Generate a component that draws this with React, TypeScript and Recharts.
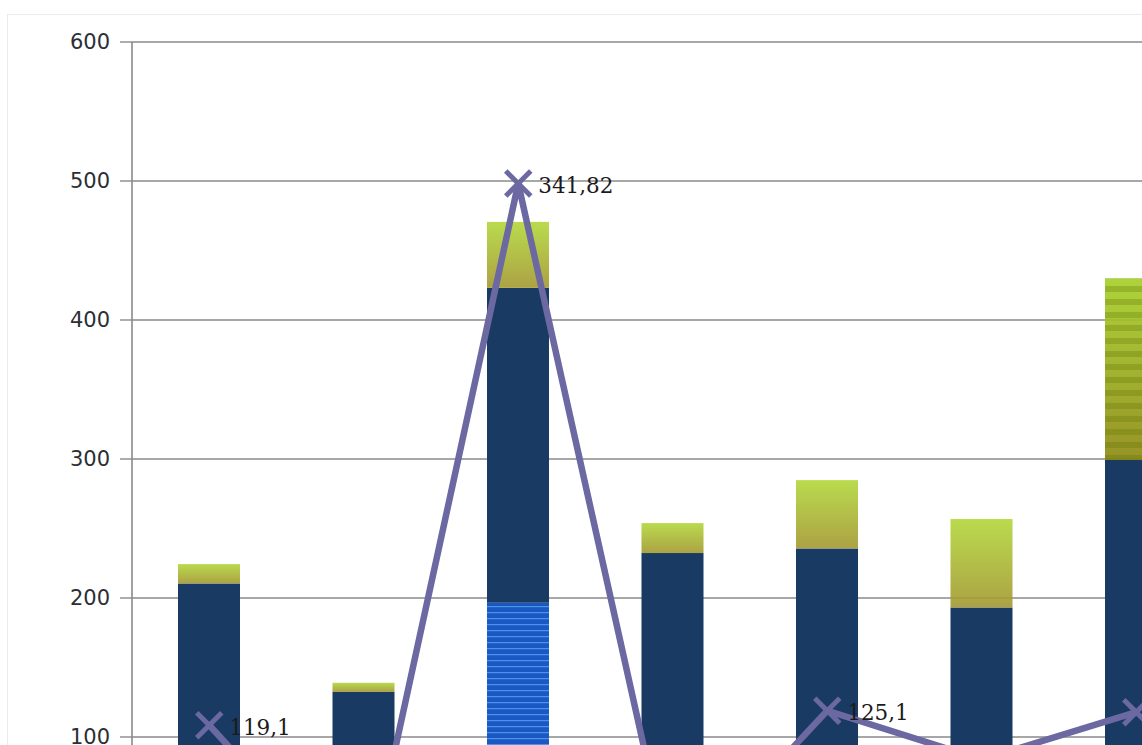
import React from 'react';
import { ComposedChart, Bar, Line, XAxis, YAxis, CartesianGrid, LabelList } from 'recharts';

const categories = ['1', '2', '3', '4', '5', '6', '7'];
const blueValues = [0, 0, 196.5, 0, 0, 0, 0];
const navyValues = [210.5, 132.5, 226.6, 232.3, 235.7, 193.2, 299.3];
const greenValues = [13.9, 6.5, 47.5, 21.6, 49.1, 63.6, 130.6];
const lineValues = [119.1, 50, 341.82, 57, 125.1, 105, 124.5];
const leftTicks = [-100, 0, 100, 200, 300, 400, 500, 600];

const data = categories.map((name, i) => ({
  name,
  blue: blueValues[i],
  navy: navyValues[i],
  green: greenValues[i],
  line: lineValues[i],
}));

const LINE_COLOR = '#6b68a2';
const NAVY = '#193a62';
const GRID = '#8a8a8a';

const GreenShape = (props: any) => {
  const { x, y, width, height, index } = props;
  if (!height || height <= 0) return <g />;
  if (index === 6) {
    return (
      <g>
        <rect x={x} y={y} width={width} height={height} fill="url(#greenGradStriped)" fillOpacity={0.92} />
        <rect x={x} y={y} width={width} height={height} fill="url(#greenStripes)" />
      </g>
    );
  }
  return <rect x={x} y={y} width={width} height={height} fill="url(#greenGrad)" fillOpacity={0.9} />;
};

const CrossDot = (props: any) => {
  const { cx, cy, index } = props;
  if (cx == null || cy == null) return <g key={`d-${index}`} />;
  const s = 12.5;
  return (
    <g key={`d-${index}`}>
      <line x1={cx - s} y1={cy - s} x2={cx + s} y2={cy + s} stroke={LINE_COLOR} strokeWidth={5} />
      <line x1={cx - s} y1={cy + s} x2={cx + s} y2={cy - s} stroke={LINE_COLOR} strokeWidth={5} />
    </g>
  );
};

const ValueLabel = (props: any) => {
  const { x, y, value } = props;
  if (x == null || y == null) return null;
  return (
    <text
      x={x + 20}
      y={y + 2}
      fontFamily="'DejaVu Serif', serif"
      fontSize={21.5}
      fill="#1b1b1b"
      dominantBaseline="central"
    >
      {String(value).replace('.', ',')}
    </text>
  );
};

export default function App() {
  return (
    <div
      style={{
        position: 'fixed',
        left: 0,
        top: 0,
        width: 1142,
        height: 745,
        overflow: 'hidden',
        background: '#ffffff',
      }}
    >
      <div
        style={{
          position: 'absolute',
          left: 7,
          top: 14,
          width: 1300,
          height: 1000,
          border: '1px solid #e8ebef',
        }}
      />
      <div style={{ position: 'absolute', left: 0, top: 0 }}>
        <ComposedChart
          width={1300}
          height={1100}
          data={data}
          margin={{ top: 42, right: 86.5, bottom: 85, left: 0 }}
          barSize={62}
        >
          <defs>
            <linearGradient id="greenGrad" x1="0" y1="0" x2="0" y2="1">
              <stop offset="0%" stopColor="#b2d73a" />
              <stop offset="100%" stopColor="#a39830" />
            </linearGradient>
            <linearGradient id="greenGradStriped" x1="0" y1="0" x2="0" y2="1">
              <stop offset="0%" stopColor="#a6d02a" />
              <stop offset="100%" stopColor="#8e8a14" />
            </linearGradient>
            <pattern id="greenStripes" patternUnits="userSpaceOnUse" width="20" height="13">
              <rect x="0" y="0" width="20" height="6" fill="rgba(95,110,0,0.28)" />
            </pattern>
            <pattern id="blueStripes" patternUnits="userSpaceOnUse" width="20" height="6">
              <rect x="0" y="0" width="20" height="6" fill="#1c58c4" />
              <rect x="0" y="0" width="20" height="1.2" fill="#4a95ec" />
            </pattern>
          </defs>
          <CartesianGrid yAxisId="left" vertical={false} stroke={GRID} strokeWidth={1.4} />
          <XAxis dataKey="name" hide />
          <YAxis
            yAxisId="left"
            domain={[-100, 600]}
            ticks={leftTicks}
            width={132}
            tickSize={12}
            tickMargin={10}
            axisLine={{ stroke: GRID, strokeWidth: 1.6 }}
            tickLine={{ stroke: GRID, strokeWidth: 1.4 }}
            tick={{ fontFamily: "'DejaVu Sans', sans-serif", fontSize: 21, fill: '#2b2f36' }}
            allowDataOverflow
          />
          <YAxis yAxisId="right" orientation="right" domain={[0, 400]} hide allowDataOverflow />
          <Bar yAxisId="left" dataKey="blue" stackId="s" fill="url(#blueStripes)" isAnimationActive={false} />
          <Bar yAxisId="left" dataKey="navy" stackId="s" fill={NAVY} isAnimationActive={false} />
          <Bar yAxisId="left" dataKey="green" stackId="s" shape={GreenShape} isAnimationActive={false} />
          <Line
            yAxisId="right"
            type="linear"
            dataKey="line"
            stroke={LINE_COLOR}
            strokeWidth={6.5}
            dot={CrossDot}
            activeDot={false}
            isAnimationActive={false}
          >
            <LabelList dataKey="line" content={ValueLabel} />
          </Line>
        </ComposedChart>
      </div>
    </div>
  );
}
